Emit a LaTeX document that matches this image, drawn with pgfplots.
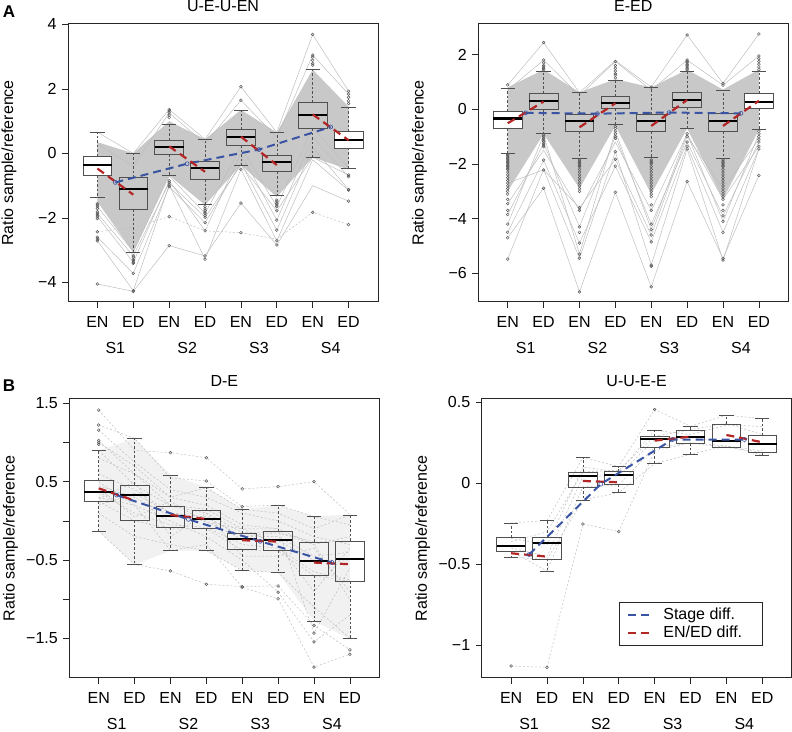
\documentclass[border=0pt]{standalone}
\usepackage{fontspec}
\setmainfont{Liberation Sans}
\usepackage{pgfplots}
\pgfplotsset{compat=1.18}
\usepgfplotslibrary{statistics}

\definecolor{bluec}{RGB}{58,84,164}
\definecolor{redc}{RGB}{180,38,38}
\definecolor{boxc}{RGB}{80,80,80}
\definecolor{ptc}{RGB}{90,90,90}
\definecolor{bandc}{RGB}{200,200,200}
\definecolor{linec}{RGB}{190,190,190}
\definecolor{hazec}{RGB}{241,241,241}

\newcommand{\fs}{\fontsize{16bp}{19bp}\selectfont}

\pgfplotsset{
  boxplot/draw direction=y,
  boxplot/draw/lower whisker/.code={%
    \draw[boxc,line width=0.6bp,dash pattern=on 2.5bp off 2bp]
      (boxplot cs:\pgfplotsboxplotvalue{lower quartile}) --
      (boxplot cs:\pgfplotsboxplotvalue{lower whisker});
    \draw[boxc,line width=0.7bp]
      (boxplot whisker cs:\pgfplotsboxplotvalue{lower whisker},0) --
      (boxplot whisker cs:\pgfplotsboxplotvalue{lower whisker},1);
  },
  boxplot/draw/upper whisker/.code={%
    \draw[boxc,line width=0.6bp,dash pattern=on 2.5bp off 2bp]
      (boxplot cs:\pgfplotsboxplotvalue{upper quartile}) --
      (boxplot cs:\pgfplotsboxplotvalue{upper whisker});
    \draw[boxc,line width=0.7bp]
      (boxplot whisker cs:\pgfplotsboxplotvalue{upper whisker},0) --
      (boxplot whisker cs:\pgfplotsboxplotvalue{upper whisker},1);
  },
  boxplot/every median/.style={draw=black,line width=2.2bp},
  bx/.style n args={6}{boxplot prepared={draw position=#1,
      lower whisker=#2,lower quartile=#3,median=#4,
      upper quartile=#5,upper whisker=#6,
      box extend=0.8,whisker extend=0.4},
    draw=boxc,mark=o,mark size=1.4bp,
    mark options={solid,draw=ptc,line width=0.5bp}},
  wbox/.style={boxplot/every box/.style={draw=boxc,line width=0.8bp,fill=white}},
  gbox/.style={boxplot/every box/.style={draw=boxc,line width=0.8bp,fill=bandc}},
  nbox/.style={boxplot/every box/.style={draw=boxc,line width=0.8bp}},
  gl/.style={draw=linec,line width=0.5bp,no marks},
  gld/.style={draw=linec,line width=0.5bp,no marks,dash pattern=on 2bp off 2bp},
  bl/.style={draw=bluec,line width=2bp,dash pattern=on 8bp off 5bp,
    mark=o,mark size=2bp,mark options={solid,line width=0.6bp}},
  rd/.style={draw=redc,line width=2.2bp,dash pattern=on 8bp off 5bp,
    no marks,unbounded coords=jump},
  panel/.style={
    anchor=south west,scale only axis,width=310bp,
    xmin=0.18,xmax=8.82,
    xtick={1,...,8},xticklabels={EN,ED,EN,ED,EN,ED,EN,ED},
    extra x ticks={1.5,3.5,5.5,7.5},extra x tick labels={S1,S2,S3,S4},
    extra x tick style={major tick length=0pt,xticklabel style={yshift=-31.6bp}},
    tick align=outside,major tick length=6bp,tick pos=left,
    axis line style={draw=black!85,line width=1bp},
    every tick/.style={draw=black!85,line width=0.7bp},
    tick label style={font=\fs},
    xticklabel style={anchor=base,yshift=-20bp},
    yticklabel style={anchor=east,xshift=-2bp},
    title style={font=\fs,at={(0.5,1)},anchor=base,yshift=6.5bp},
    ylabel={Ratio sample/reference},
    every axis y label/.style={at={(axis description cs:-0.19,0.5)},
      rotate=90,anchor=center,font=\fs},
  },
}

\begin{document}
\begin{tikzpicture}
\useasboundingbox (0,0) rectangle (792bp,732bp);

% ---------------- A left: U-E-U-EN
\begin{axis}[panel,at={(68bp,430.3bp)},height=277.7bp,
  ymin=-4.6,ymax=4.015,ytick={-4,-2,0,2,4},yticklabels={−4,−2,0,2,4},
  title={U-E-U-EN}]
\addplot[fill=bandc,draw=none] coordinates {
  (1,0.35) (2,0.0) (3,1.0) (4,0.44) (5,1.35) (6,0.65) (7,2.6) (8,1.45)
  (8,-0.5) (7,-0.12) (6,-1.35) (5,-0.36) (4,-1.6) (3,-0.68) (2,-3.07) (1,-1.5)};
\addplot[gl] coordinates {(1,-4.05)(2,-4.28)(3,-2.86)(4,-3.18)(5,-1.54)(6,-2.84)(7,-1.0)(8,-1.48)};
\addplot[gl] coordinates {(1,-2.71)(2,-4.26)(3,-0.98)(4,-3.28)(5,-0.49)(6,-2.71)(7,-0.2)(8,-1.14)};
\addplot[gl] coordinates {(1,-2.6)(2,-3.72)(3,-1.03)(4,-2.15)(5,-0.3)(6,-2.38)(7,0.2)(8,-1.12)};
\addplot[gl] coordinates {(1,0.66)(2,0.0)(3,1.36)(4,0.44)(5,2.07)(6,0.65)(7,3.69)(8,1.93)};
\addplot[gl] coordinates {(1,0.3)(2,-0.4)(3,1.26)(4,0.3)(5,1.65)(6,0.5)(7,3.05)(8,1.84)};
\addplot[gl] coordinates {(1,-1.96)(2,-3.38)(3,-0.85)(4,-2.40)(5,0.0)(6,-2.07)(7,0.5)(8,-0.72)};
\addplot[gl] coordinates {(1,-1.86)(2,-3.18)(3,-0.91)(4,-1.98)(5,-0.36)(6,-1.78)(7,-0.12)(8,-0.67)};
\addplot[gl] coordinates {(1,-1.65)(2,-3.05)(3,-0.7)(4,-1.86)(5,0.2)(6,-1.65)(7,0.8)(8,-0.45)};
\addplot[gld] coordinates {(1,-2.43)(2,-2.3)(3,-1.96)(4,-2.40)(5,-2.46)(6,-2.66)(7,-1.83)(8,-2.21)};
\addplot[bx={1}{-1.37}{-0.68}{-0.35}{-0.09}{0.66},wbox] table[row sep=\\,y index=0]{v\\ -1.56\\ -1.60\\ -1.65\\ -1.71\\ -1.81\\ -1.86\\ -1.91\\ -1.96\\ -2.02\\ -2.43\\ -2.60\\ -2.66\\ -2.71\\ -4.05\\};
\addplot[bx={2}{-3.07}{-1.73}{-1.11}{-0.75}{0.0},gbox] table[row sep=\\,y index=0]{v\\ -3.18\\ -3.22\\ -3.29\\ -3.33\\ -3.38\\ -3.41\\ -3.72\\ -4.26\\ -4.28\\};
\addplot[bx={3}{-0.68}{-0.03}{0.19}{0.41}{0.90},gbox] table[row sep=\\,y index=0]{v\\ 1.36\\ 1.32\\ 1.26\\ 1.19\\ 1.12\\ -0.85\\ -0.91\\ -0.98\\ -1.03\\ -1.96\\ -2.86\\};
\addplot[bx={4}{-1.57}{-0.80}{-0.44}{-0.24}{0.44},gbox] table[row sep=\\,y index=0]{v\\ -1.65\\ -1.72\\ -1.77\\ -1.82\\ -1.86\\ -1.92\\ -1.98\\ -2.15\\ -2.40\\ -3.18\\ -3.28\\};
\addplot[bx={5}{-0.36}{0.26}{0.50}{0.74}{1.34},gbox] table[row sep=\\,y index=0]{v\\ 2.07\\ 1.65\\ -0.49\\ -1.54\\ -2.46\\};
\addplot[bx={6}{-1.31}{-0.57}{-0.27}{-0.07}{0.65},gbox] table[row sep=\\,y index=0]{v\\ -1.45\\ -1.50\\ -1.55\\ -1.60\\ -1.65\\ -1.78\\ -2.07\\ -2.38\\ -2.71\\ -2.84\\};
\addplot[bx={7}{-0.12}{0.78}{1.18}{1.57}{2.60},gbox] table[row sep=\\,y index=0]{v\\ 3.69\\ 3.05\\ 2.99\\ 2.89\\ 2.79\\ 2.74\\ -1.83\\};
\addplot[bx={8}{-0.45}{0.17}{0.41}{0.67}{1.43},wbox] table[row sep=\\,y index=0]{v\\ 1.93\\ 1.84\\ 1.74\\ 1.63\\ 1.55\\ -0.67\\ -0.72\\ -1.12\\ -1.14\\ -1.48\\ -2.21\\};
\addplot[bl] coordinates {(1.5,-0.9)(3.5,-0.32)(5.5,0.12)(7.5,0.82)};
\addplot[rd] coordinates {(1,-0.47)(2,-1.28)(2.5,nan)(3,0.22)(4,-0.57)(4.5,nan)(5,0.52)(6,-0.36)(6.5,nan)(7,1.21)(8,0.41)};
\end{axis}

% ---------------- A right: E-ED
\begin{axis}[panel,at={(478.3bp,430.3bp)},height=277.7bp,
  ymin=-7.04,ymax=3.12,ytick={-6,-4,-2,0,2},yticklabels={−6,−4,−2,0,2},
  title={E-ED}]
\addplot[fill=bandc,draw=none] coordinates {
  (1,0.8) (2,1.45) (3,0.62) (4,1.1) (5,0.8) (6,1.45) (7,0.72) (8,1.45)
  (8,-0.75) (7,-3.3) (6,-0.7) (5,-3.1) (4,-0.6) (3,-2.9) (2,-0.9) (1,-3.0)};
\addplot[gl] coordinates {(1,-5.48)(2,-2.2)(3,-5.45)(4,-1.55)(5,-5.7)(6,-1.45)(7,-5.52)(8,-1.45)};
\addplot[gl] coordinates {(1,-4.7)(2,-2.89)(3,-6.68)(4,-3.04)(5,-6.5)(6,-2.64)(7,-5.46)(8,-2.42)};
\addplot[gl] coordinates {(1,0.89)(2,2.44)(3,0.61)(4,1.78)(5,0.81)(6,2.72)(7,0.95)(8,2.75)};
\addplot[gl] coordinates {(1,-4.5)(2,-1.86)(3,-4.9)(4,-2.08)(5,-4.85)(6,-1.35)(7,-4.5)(8,-1.45)};
\addplot[gl] coordinates {(1,-3.85)(2,-1.25)(3,-4.3)(4,-1.0)(5,-4.2)(6,-1.2)(7,-3.9)(8,-1.2)};
\addplot[gl] coordinates {(1,-3.45)(2,-1.5)(3,-3.7)(4,-1.2)(5,-3.7)(6,-0.9)(7,-3.3)(8,-1.35)};
\addplot[gl] coordinates {(1,0.7)(2,1.8)(3,0.5)(4,1.75)(5,0.7)(6,1.8)(7,0.88)(8,1.95)};
\addplot[gl] coordinates {(1,-2.7)(2,-2.22)(3,-3.6)(4,-1.83)(5,-4.6)(6,-1.0)(7,-2.9)(8,-1.1)};
\addplot[gl] coordinates {(1,-4.2)(2,-0.94)(3,-5.3)(4,-0.8)(5,-4.4)(6,-0.9)(7,-4.1)(8,-0.9)};
\addplot[bx={1}{-1.60}{-0.71}{-0.34}{-0.09}{0.77},wbox] table[row sep=\\,y index=0]{v\\ 0.89\\ -1.65\\ -1.7\\ -1.75\\ -1.8\\ -1.85\\ -1.9\\ -1.95\\ -2.0\\ -2.05\\ -2.1\\ -2.15\\ -2.2\\ -2.3\\ -2.4\\ -2.5\\ -2.6\\ -2.7\\ -2.8\\ -2.9\\ -3.0\\ -3.1\\ -3.3\\ -3.45\\ -3.7\\ -3.85\\ -4.2\\ -4.5\\ -4.7\\ -5.48\\};
\addplot[bx={2}{-0.87}{0.0}{0.31}{0.59}{1.40},gbox] table[row sep=\\,y index=0]{v\\ 2.44\\ 1.45\\ 1.5\\ 1.55\\ 1.6\\ 1.7\\ 1.8\\ -0.94\\ -1.0\\ -1.06\\ -1.12\\ -1.18\\ -1.25\\ -1.31\\ -1.37\\ -1.86\\ -2.22\\ -2.89\\};
\addplot[bx={3}{-1.78}{-0.81}{-0.42}{-0.17}{0.61},gbox] table[row sep=\\,y index=0]{v\\ -1.85\\ -1.9\\ -1.95\\ -2.0\\ -2.05\\ -2.1\\ -2.2\\ -2.3\\ -2.4\\ -2.5\\ -2.6\\ -2.7\\ -2.8\\ -2.9\\ -3.0\\ -3.6\\ -3.7\\ -4.3\\ -4.5\\ -4.9\\ -5.3\\ -5.45\\ -6.68\\};
\addplot[bx={4}{-0.57}{0.04}{0.24}{0.46}{1.07},gbox] table[row sep=\\,y index=0]{v\\ 1.15\\ 1.25\\ 1.3\\ 1.4\\ 1.5\\ 1.6\\ 1.75\\ -0.63\\ -0.7\\ -0.8\\ -0.9\\ -1.0\\ -1.06\\ -1.55\\ -1.83\\ -2.08\\ -3.04\\};
\addplot[bx={5}{-1.76}{-0.82}{-0.43}{-0.18}{0.79},gbox] table[row sep=\\,y index=0]{v\\ 0.81\\ -1.85\\ -1.9\\ -1.95\\ -2.0\\ -2.1\\ -2.2\\ -2.3\\ -2.4\\ -2.5\\ -2.6\\ -2.7\\ -2.8\\ -2.9\\ -3.0\\ -3.1\\ -3.2\\ -3.5\\ -3.7\\ -4.2\\ -4.4\\ -4.6\\ -4.85\\ -5.7\\ -5.75\\ -6.5\\};
\addplot[bx={6}{-0.70}{0.06}{0.33}{0.62}{1.40},gbox] table[row sep=\\,y index=0]{v\\ 2.72\\ 1.45\\ 1.5\\ 1.55\\ 1.6\\ 1.65\\ 1.7\\ 1.75\\ 1.8\\ -0.9\\ -1.0\\ -1.2\\ -1.35\\ -1.45\\ -2.64\\};
\addplot[bx={7}{-1.78}{-0.81}{-0.43}{-0.16}{0.71},gbox] table[row sep=\\,y index=0]{v\\ 0.95\\ 0.88\\ -1.85\\ -1.9\\ -1.95\\ -2.0\\ -2.05\\ -2.1\\ -2.2\\ -2.3\\ -2.4\\ -2.5\\ -2.6\\ -2.7\\ -2.8\\ -2.9\\ -3.0\\ -3.1\\ -3.2\\ -3.3\\ -3.5\\ -3.7\\ -3.9\\ -4.1\\ -4.5\\ -5.46\\ -5.52\\};
\addplot[bx={8}{-0.72}{0.04}{0.28}{0.59}{1.40},wbox] table[row sep=\\,y index=0]{v\\ 2.75\\ 1.45\\ 1.55\\ 1.65\\ 1.75\\ 1.85\\ 1.95\\ -0.8\\ -0.9\\ -1.0\\ -1.1\\ -1.2\\ -1.35\\ -1.45\\ -2.42\\};
\addplot[bl] coordinates {(1.5,-0.13)(3.5,-0.16)(5.5,-0.12)(7.5,-0.15)};
\addplot[rd] coordinates {(1,-0.51)(2,0.28)(2.5,nan)(3,-0.66)(4,0.22)(4.5,nan)(5,-0.61)(6,0.34)(6.5,nan)(7,-0.61)(8,0.31)};
\end{axis}

% ---------------- B left: D-E
\begin{axis}[panel,at={(69.3bp,54.3bp)},height=278.7bp,
  ymin=-2.0,ymax=1.556,ytick={-1.5,-1,...,1.5},
  yticklabels={−1.5,,−0.5,,0.5,,1.5},
  title={D-E}]
\addplot[fill=hazec,draw=none] coordinates {
  (1,0.9) (2,1.05) (3,0.59) (4,0.43) (5,0.15) (6,0.2) (7,0.06) (8,0.08)
  (8,-1.5) (7,-1.28) (6,-0.66) (5,-0.63) (4,-0.38) (3,-0.38) (2,-0.56) (1,-0.13)};
\addplot[gld] coordinates {(1,1.415)(2,0.9)(3,0.871)(4,0.807)(5,0.408)(6,0.438)(7,0.502)(8,0.08)};
\addplot[gld] coordinates {(1,1.224)(2,1.054)(3,0.55)(4,0.51)(5,0.183)(6,0.204)(7,0.055)(8,-0.05)};
\addplot[gld] coordinates {(1,1.16)(2,0.75)(3,0.4)(4,0.3)(5,0.1)(6,0.0)(7,-0.2)(8,-0.3)};
\addplot[gld] coordinates {(1,1.024)(2,0.6)(3,0.2)(4,0.15)(5,-0.1)(6,-0.1)(7,-0.3)(8,-0.2)};
\addplot[gld] coordinates {(1,0.897)(2,0.46)(3,0.19)(4,0.1)(5,-0.15)(6,-0.14)(7,-0.27)(8,-0.26)};
\addplot[gld] coordinates {(1,0.6)(2,0.4)(3,0.1)(4,0.05)(5,-0.2)(6,-0.2)(7,-0.45)(8,-0.4)};
\addplot[gld] coordinates {(1,0.45)(2,0.3)(3,0.06)(4,0.0)(5,-0.24)(6,-0.25)(7,-0.5)(8,-0.5)};
\addplot[gld] coordinates {(1,0.37)(2,0.1)(3,-0.05)(4,-0.08)(5,-0.3)(6,-0.35)(7,-0.65)(8,-0.75)};
\addplot[gld] coordinates {(1,0.25)(2,0.0)(3,-0.1)(4,-0.1)(5,-0.37)(6,-0.38)(7,-0.7)(8,-0.77)};
\addplot[gld] coordinates {(1,0.1)(2,-0.2)(3,-0.3)(4,-0.378)(5,-0.633)(6,-0.659)(7,-1.1)(8,-1.496)};
\addplot[gld] coordinates {(1,-0.128)(2,-0.557)(3,-0.637)(4,-0.807)(5,-0.837)(6,-0.829)(7,-1.334)(8,-1.645)};
\addplot[gld] coordinates {(1,0.3)(2,0.2)(3,-0.378)(4,-0.3)(5,-0.846)(6,-0.994)(7,-1.866)(8,-1.70)};
\addplot[gld] coordinates {(1,0.5)(2,0.2)(3,0.0)(4,-0.2)(5,-0.5)(6,-0.909)(7,-1.543)(8,-1.2)};
\addplot[gld] coordinates {(1,0.8)(2,0.6)(3,0.3)(4,0.2)(5,-0.05)(6,-0.1)(7,-1.432)(8,-0.6)};
\addplot[gld] coordinates {(1,0.2)(2,0.35)(3,0.1)(4,0.05)(5,-0.2)(6,-0.15)(7,-0.3)(8,-1.0)};
\addplot[gld] coordinates {(1,0.999)(2,0.7)(3,0.3)(4,0.425)(5,0.149)(6,0.1)(7,-0.1)(8,0.077)};
\addplot[gld] coordinates {(1,0.42)(2,0.05)(3,0.25)(4,-0.02)(5,-0.1)(6,-0.3)(7,-0.9)(8,-0.35)};
\addplot[gld] coordinates {(1,0.28)(2,0.5)(3,-0.2)(4,0.1)(5,-0.45)(6,-0.45)(7,-0.35)(8,-0.9)};
\addplot[bx={1}{-0.128}{0.246}{0.374}{0.514}{0.897},nbox] table[row sep=\\,y index=0]{v\\ 1.415\\ 1.224\\ 1.160\\ 1.024\\ 0.999\\ 0.977\\};
\addplot[bx={2}{-0.557}{0.008}{0.331}{0.459}{1.054},nbox] coordinates {};
\addplot[bx={3}{-0.378}{-0.081}{0.064}{0.187}{0.586},nbox] table[row sep=\\,y index=0]{v\\ 0.871\\ -0.637\\};
\addplot[bx={4}{-0.378}{-0.093}{0.021}{0.136}{0.425},nbox] table[row sep=\\,y index=0]{v\\ 0.807\\ 0.510\\ -0.807\\};
\addplot[bx={5}{-0.633}{-0.365}{-0.234}{-0.157}{0.149},nbox] table[row sep=\\,y index=0]{v\\ 0.408\\ 0.183\\ -0.837\\ -0.846\\};
\addplot[bx={6}{-0.659}{-0.382}{-0.242}{-0.136}{0.204},nbox] table[row sep=\\,y index=0]{v\\ 0.438\\ -0.829\\ -0.909\\ -0.994\\};
\addplot[bx={7}{-1.283}{-0.693}{-0.510}{-0.268}{0.055},nbox] table[row sep=\\,y index=0]{v\\ 0.502\\ -1.334\\ -1.432\\ -1.543\\ -1.866\\};
\addplot[bx={8}{-1.496}{-0.769}{-0.484}{-0.255}{0.077},nbox] table[row sep=\\,y index=0]{v\\ -1.645\\ -1.700\\};
\addplot[bl] coordinates {(1.5,0.33)(3.5,0.02)(5.5,-0.26)(7.5,-0.53)};
\addplot[rd] coordinates {(1,0.416)(2,0.26)(2.5,nan)(3,0.077)(4,0.025)(4.5,nan)(5,-0.246)(6,-0.263)(6.5,nan)(7,-0.531)(8,-0.552)};
\end{axis}

% ---------------- B right: U-U-E-E
\begin{axis}[panel,at={(481.7bp,54.3bp)},height=278.7bp,
  ymin=-1.2,ymax=0.52,ytick={-1,-0.5,0,0.5},yticklabels={−1,−0.5,0,0.5},
  title={U-U-E-E},
  legend image code/.code={\draw[#1] (0bp,0bp) -- (24bp,0bp);},
  legend cell align=left,
  legend style={at={(0.906,0.115)},anchor=south east,draw=black!85,
    line width=0.8bp,fill=white,font=\fs,inner xsep=8bp,inner ysep=4bp,row sep=1bp,
    /tikz/every odd column/.append style={column sep=8bp}}]
\addlegendimage{draw=bluec,line width=2bp,dash pattern=on 8bp off 5bp}
\addlegendentry{Stage diff.}
\addlegendimage{draw=redc,line width=2.2bp,dash pattern=on 8bp off 5bp}
\addlegendentry{EN/ED diff.\hspace*{10bp}}
\addplot[gld] coordinates {(1,-1.128)(2,-1.136)(3,-0.251)(4,-0.298)(5,0.20)(6,0.25)(7,0.23)(8,0.20)};
\addplot[gld] coordinates {(1,-0.245)(2,-0.23)(3,0.158)(4,0.103)(5,0.455)(6,0.352)(7,0.42)(8,0.399)};
\addplot[gld] coordinates {(1,-0.36)(2,-0.30)(3,0.07)(4,0.08)(5,0.29)(6,0.33)(7,0.37)(8,0.30)};
\addplot[gld] coordinates {(1,-0.40)(2,-0.45)(3,0.04)(4,0.05)(5,0.27)(6,0.28)(7,0.26)(8,0.24)};
\addplot[gld] coordinates {(1,-0.42)(2,-0.541)(3,-0.023)(4,-0.01)(5,0.222)(6,0.247)(7,0.222)(8,0.191)};
\addplot[gld] coordinates {(1,-0.457)(2,-0.47)(3,-0.103)(4,-0.058)(5,0.121)(6,0.179)(7,0.23)(8,0.173)};
\addplot[gld] coordinates {(1,-0.34)(2,-0.38)(3,0.10)(4,0.07)(5,0.327)(6,0.30)(7,0.36)(8,0.35)};
\addplot[bx={1}{-0.457}{-0.420}{-0.387}{-0.335}{-0.245},nbox] table[row sep=\\,y index=0]{v\\ -1.128\\};
\addplot[bx={2}{-0.541}{-0.467}{-0.370}{-0.333}{-0.230},nbox] table[row sep=\\,y index=0]{v\\ -1.136\\};
\addplot[bx={3}{-0.103}{-0.023}{0.045}{0.070}{0.158},nbox] table[row sep=\\,y index=0]{v\\ -0.251\\};
\addplot[bx={4}{-0.058}{-0.010}{0.053}{0.074}{0.103},nbox] table[row sep=\\,y index=0]{v\\ -0.298\\};
\addplot[bx={5}{0.121}{0.222}{0.272}{0.290}{0.327},nbox] table[row sep=\\,y index=0]{v\\ 0.455\\};
\addplot[bx={6}{0.179}{0.247}{0.284}{0.329}{0.352},nbox] coordinates {};
\addplot[bx={7}{0.222}{0.222}{0.261}{0.366}{0.420},nbox] coordinates {};
\addplot[bx={8}{0.173}{0.191}{0.241}{0.296}{0.399},nbox] coordinates {};
\addplot[bl] coordinates {(1.5,-0.44)(3.5,-0.005)(5.5,0.27)(7.5,0.27)};
\addplot[rd] coordinates {(1,-0.432)(2,-0.453)(2.5,nan)(3,0.014)(4,0.006)(4.5,nan)(5,0.263)(6,0.288)(6.5,nan)(7,0.298)(8,0.253)};
\end{axis}

\node[font=\fontsize{17bp}{20bp}\selectfont\bfseries] at (9bp,720bp) {A};
\node[font=\fontsize{17bp}{20bp}\selectfont\bfseries] at (9bp,346bp) {B};
\end{tikzpicture}
\end{document}
